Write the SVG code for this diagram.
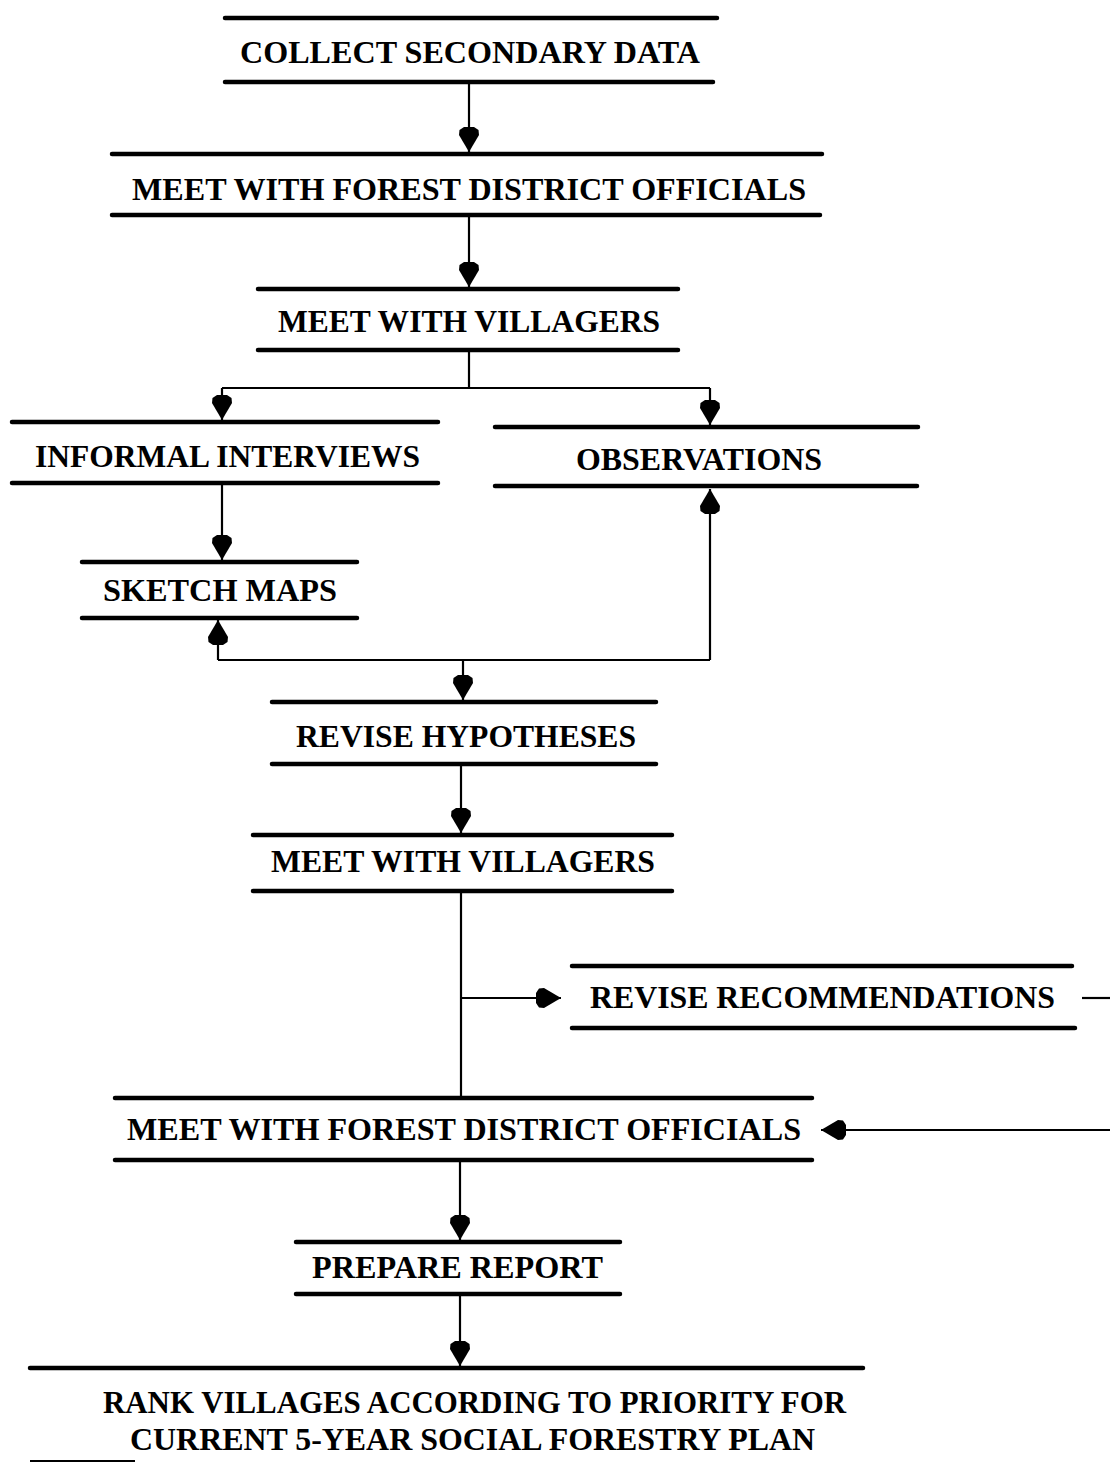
<svg xmlns="http://www.w3.org/2000/svg" width="1110" height="1463" viewBox="0 0 1110 1463">
<style>
.bar{stroke:#000;stroke-width:4.5;stroke-linecap:round;fill:none}
.t{font-family:"Liberation Serif","Times New Roman",serif;font-weight:bold;font-size:32px;fill:#000;text-anchor:start}
.c{stroke:#000;stroke-width:2.2;fill:none}
</style>
<defs>
<marker id="ah" markerUnits="userSpaceOnUse" markerWidth="30" markerHeight="30" viewBox="-28 -15 30 30" refX="0" refY="0" orient="auto">
<path d="M0,0 L-17,-10 L-22,-9.5 L-25,-5 L-25,5 L-22,9.5 L-17,10 Z" fill="#000"/>
</marker>
</defs>
<rect width="1110" height="1463" fill="#fff"/>
<g id="connectors">
<path class="c" d="M469,82 V152" marker-end="url(#ah)"/>
<path class="c" d="M469,215 V287" marker-end="url(#ah)"/>
<path class="c" d="M469,350 V388 M222,388 H710"/>
<path class="c" d="M222,388 V420" marker-end="url(#ah)"/>
<path class="c" d="M710,388 V425" marker-end="url(#ah)"/>
<path class="c" d="M222,483 V560" marker-end="url(#ah)"/>
<path class="c" d="M218,660 V620" marker-end="url(#ah)"/>
<path class="c" d="M218,660 H710"/>
<path class="c" d="M710,660 V489" marker-end="url(#ah)"/>
<path class="c" d="M463,660 V700" marker-end="url(#ah)"/>
<path class="c" d="M461,764 V833" marker-end="url(#ah)"/>
<path class="c" d="M461,891 V1098"/>
<path class="c" d="M461,998 H561" marker-end="url(#ah)"/>
<path class="c" d="M1082,998 H1110"/>
<path class="c" d="M1110,1130 H821" marker-end="url(#ah)"/>
<path class="c" d="M460,1160 V1240" marker-end="url(#ah)"/>
<path class="c" d="M460,1294 V1366" marker-end="url(#ah)"/>
</g>
<g id="n1">
<path class="bar" d="M225,18 H717 M225,82 H713"/>
<text class="t" x="240" y="63" textLength="460" lengthAdjust="spacingAndGlyphs">COLLECT SECONDARY DATA</text>
</g>
<g id="n2">
<path class="bar" d="M112,154 H822 M112,215 H820"/>
<text class="t" x="132" y="200" textLength="674" lengthAdjust="spacingAndGlyphs">MEET WITH FOREST DISTRICT OFFICIALS</text>
</g>
<g id="n3">
<path class="bar" d="M258,289 H678 M258,350 H678"/>
<text class="t" x="278" y="332" textLength="382" lengthAdjust="spacingAndGlyphs">MEET WITH VILLAGERS</text>
</g>
<g id="n4">
<path class="bar" d="M12,422 H438 M12,483 H438"/>
<text class="t" x="35" y="467" textLength="385" lengthAdjust="spacingAndGlyphs">INFORMAL INTERVIEWS</text>
</g>
<g id="n5">
<path class="bar" d="M495,427 H918 M495,486 H917"/>
<text class="t" x="576" y="470" textLength="246" lengthAdjust="spacingAndGlyphs">OBSERVATIONS</text>
</g>
<g id="n6">
<path class="bar" d="M82,562 H357 M82,618 H357"/>
<text class="t" x="103" y="601" textLength="234" lengthAdjust="spacingAndGlyphs">SKETCH MAPS</text>
</g>
<g id="n7">
<path class="bar" d="M272,702 H656 M272,764 H656"/>
<text class="t" x="296" y="747" textLength="340" lengthAdjust="spacingAndGlyphs">REVISE HYPOTHESES</text>
</g>
<g id="n8">
<path class="bar" d="M253,835 H672 M253,891 H672"/>
<text class="t" x="271" y="872" textLength="384" lengthAdjust="spacingAndGlyphs">MEET WITH VILLAGERS</text>
</g>
<g id="n9">
<path class="bar" d="M572,966 H1072 M572,1028 H1075"/>
<text class="t" x="590" y="1008" textLength="465" lengthAdjust="spacingAndGlyphs">REVISE RECOMMENDATIONS</text>
</g>
<g id="n10">
<path class="bar" d="M115,1098 H812 M115,1160 H812"/>
<text class="t" x="127" y="1140" textLength="674" lengthAdjust="spacingAndGlyphs">MEET WITH FOREST DISTRICT OFFICIALS</text>
</g>
<g id="n11">
<path class="bar" d="M296,1242 H620 M296,1294 H620"/>
<text class="t" x="312" y="1278" textLength="291" lengthAdjust="spacingAndGlyphs">PREPARE REPORT</text>
</g>
<g id="n12">
<path class="bar" d="M30,1368 H863"/>
<text class="t" x="103" y="1413" textLength="743" lengthAdjust="spacingAndGlyphs">RANK VILLAGES ACCORDING TO PRIORITY FOR</text>
<text class="t" x="130" y="1450" textLength="685" lengthAdjust="spacingAndGlyphs">CURRENT 5-YEAR SOCIAL FORESTRY PLAN</text>
<path d="M30,1461 H135" stroke="#000" stroke-width="2"/>
</g>
</svg>
